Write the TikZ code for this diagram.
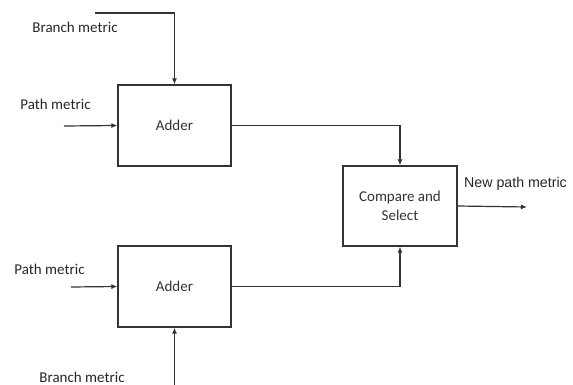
\documentclass[tikz,border=0pt]{standalone}
\usepackage{fontspec}
\setmainfont{Carlito}
\newfontfamily\arialf{Liberation Sans}
\usetikzlibrary{arrows.meta}
\begin{document}
\begin{tikzpicture}[x=1pt,y=-1pt,
  line/.style={draw=black!80, line width=1.2pt},
  arr/.style={line, -{Latex[length=6pt,width=5pt]}},
  blk/.style={draw=black!80, line width=1.2pt, minimum width=113pt, minimum height=81pt, inner sep=0pt, font=\fontsize{15}{17}\selectfont, text=black!80, align=center},
  lbl/.style={font=\fontsize{15}{17}\selectfont, text=black!85, inner sep=0pt}]
\useasboundingbox (0,0) rectangle (573,385);
\node[blk] (add1) at (174.5,125.5) {Adder};
\node[blk] (add2) at (174.5,286.5) {Adder};
\node[blk, minimum width=114pt, minimum height=80pt] (cs) at (400,206) {Compare and\\[2pt]Select};
\node[lbl] (bm1) at (75,27) {Branch metric};
\node[lbl] (pm1) at (55.5,104) {Path metric};
\node[lbl] (pm2) at (49.5,269) {Path metric};
\node[lbl] (bm2) at (82,377) {Branch metric};
\node[lbl, font=\arialf\fontsize{14.2}{17}\selectfont, anchor=west] (npm) at (464,184) {New path metric};
\coordinate (b1s) at (95,13);
\coordinate (p1s) at (64,126);
\coordinate (p2s) at (71,287);
\coordinate (b2s) at (174.5,385);
\coordinate (out) at (527,207);
\draw[arr] (b1s) -| (add1.north);
\draw[arr] (p1s) -- (add1.west);
\draw[arr] (p2s) -- (add2.west);
\draw[arr] (b2s) -- (add2.south);
\draw[arr] (add1.east) -| (cs.north);
\draw[arr] (add2.east) -| (cs.south);
\draw[arr] (cs.east) -- (out);
\end{tikzpicture}
\end{document}
